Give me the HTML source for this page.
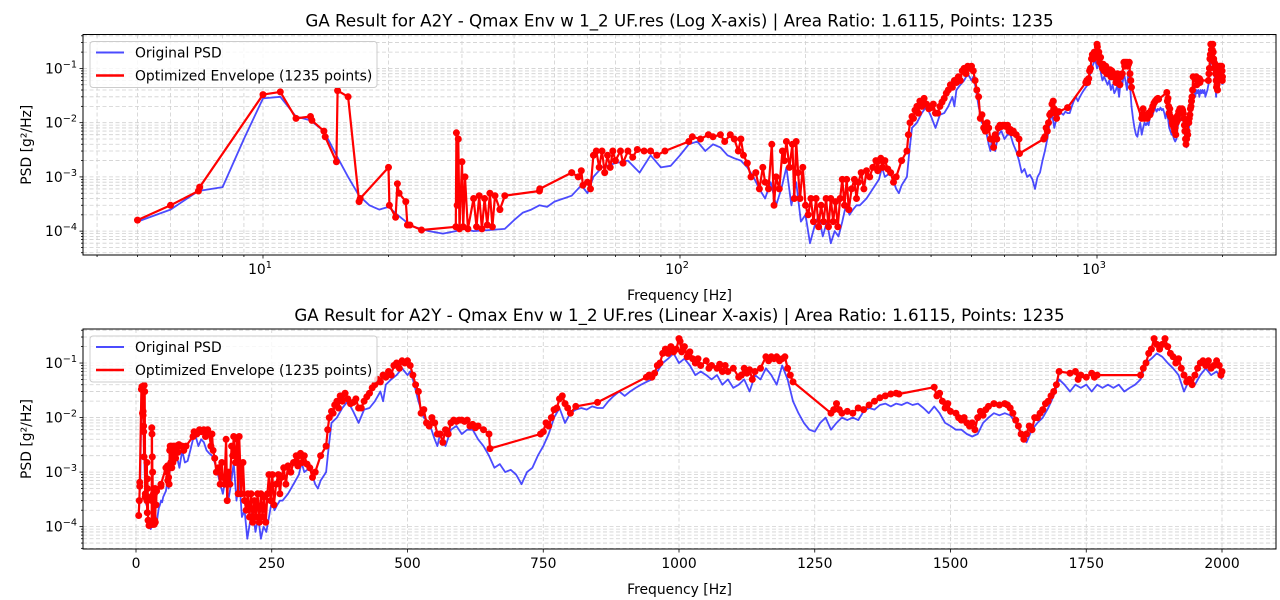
<!DOCTYPE html>
<html><head><meta charset="utf-8">
<style>
html,body{margin:0;padding:0;background:#fff;}
svg{display:block;font-family:"DejaVu Sans","Liberation Sans",sans-serif;}
</style></head>
<body>
<svg id="fig" width="1280" height="600" viewBox="0 0 1280 600" xmlns="http://www.w3.org/2000/svg"></svg>
<script>
const psdFreq=[5,6,7,8,9,10,11,12,13,14,15,16,17,18,19,20,21,22,23,25,27,29,30,32,35,38,40,42,44,46,48,50,55,58,60,62,65,70,75,80,85,90,95,100,105,110,115,120,125,130,135,140,145,150,155,160,165,170,175,180,185,190,195,200,205,210,215,220,225,230,235,240,245,250,255,260,265,270,280,290,300,305,310,320,330,335,340,350,355,360,370,380,390,400,410,420,430,440,450,455,460,470,480,490,500,505,510,520,530,540,550,555,560,570,580,590,600,610,620,630,640,650,660,670,680,690,700,710,720,730,740,750,760,770,780,790,800,810,820,830,840,850,860,870,880,890,900,910,920,930,940,950,960,970,980,990,1000,1010,1020,1030,1040,1050,1060,1070,1080,1090,1100,1110,1120,1130,1140,1150,1160,1170,1180,1190,1200,1210,1220,1230,1240,1250,1260,1270,1280,1290,1300,1310,1320,1330,1340,1350,1360,1370,1380,1390,1400,1410,1420,1430,1440,1450,1460,1470,1480,1490,1500,1510,1520,1530,1540,1550,1560,1570,1580,1590,1600,1610,1620,1630,1640,1650,1660,1670,1680,1690,1700,1710,1720,1730,1740,1750,1760,1770,1780,1790,1800,1810,1820,1830,1840,1850,1860,1870,1880,1890,1900,1910,1920,1930,1940,1950,1960,1970,1980,1990,2000];
const psdVal=[1.5e-4,2.5e-4,5.5e-4,6.5e-4,5e-3,2.8e-2,3e-2,1.3e-2,1.1e-2,7e-3,2.5e-3,1e-3,4.5e-4,3e-4,2.5e-4,2.8e-4,2e-4,1.5e-4,1.2e-4,1e-4,9e-5,1e-4,1.1e-4,1e-4,1.05e-4,1.1e-4,1.6e-4,2.2e-4,2.5e-4,3e-4,2.8e-4,3.5e-4,4.5e-4,7e-4,5e-4,1e-3,1.5e-3,1.8e-3,2e-3,1.2e-3,2.5e-3,1.5e-3,1.6e-3,2.5e-3,4e-3,4.5e-3,3e-3,4e-3,3.5e-3,2.5e-3,2.2e-3,2e-3,1.5e-3,1e-3,6e-4,4e-4,8e-4,3e-4,6e-4,1.5e-3,3e-4,8e-4,1.5e-4,2e-4,6e-5,1.2e-4,2e-4,8e-5,1.5e-4,6e-5,1e-4,8e-5,1.5e-4,3e-4,2e-4,2.5e-4,3e-4,3e-4,4e-4,6e-4,9e-4,1.5e-3,1e-3,1.2e-3,6e-4,5e-4,7e-4,1e-3,3e-3,8e-3,1e-2,1.5e-2,2e-2,1.3e-2,8e-3,1.4e-2,1.5e-2,2e-2,3e-2,2e-2,4e-2,5e-2,6e-2,8e-2,6e-2,7e-2,5e-2,2e-2,1e-2,8e-3,4e-3,3e-3,5e-3,3e-3,6e-3,7e-3,5e-3,6e-3,6e-3,4e-3,3e-3,2e-3,1.2e-3,1.4e-3,1e-3,1.1e-3,9e-4,6e-4,1e-3,1.2e-3,2e-3,3e-3,5e-3,1e-2,1.5e-2,8e-3,1.2e-2,1.4e-2,1.5e-2,1.4e-2,1.6e-2,1.5e-2,1.5e-2,2e-2,2.5e-2,3e-2,2.5e-2,3e-2,3.5e-2,4e-2,4.5e-2,5e-2,7e-2,1e-1,1.2e-1,1.5e-1,1e-1,1.2e-1,9e-2,6e-2,7e-2,6e-2,5e-2,6e-2,4e-2,5e-2,3.5e-2,4e-2,5e-2,3e-2,6e-2,5e-2,8e-2,6e-2,4e-2,9e-2,5e-2,2e-2,1.2e-2,8e-3,6e-3,5.5e-3,8e-3,1e-2,6e-3,8e-3,1e-2,9e-3,1e-2,9e-3,1.3e-2,1.5e-2,1.4e-2,1.7e-2,1.8e-2,1.6e-2,1.8e-2,1.7e-2,1.9e-2,1.7e-2,1.8e-2,1.5e-2,1.2e-2,1.6e-2,1.2e-2,8e-3,7e-3,6e-3,6e-3,5e-3,4.5e-3,5e-3,8e-3,1e-2,1.2e-2,1.1e-2,1.2e-2,1.1e-2,8e-3,5e-3,3.5e-3,6e-3,8e-3,1e-2,1.5e-2,2.5e-2,5e-2,4e-2,3e-2,4e-2,3.5e-2,4e-2,3e-2,4e-2,3.5e-2,4e-2,3.5e-2,4e-2,3e-2,3.5e-2,4e-2,5e-2,1e-1,1.2e-1,1.5e-1,1.3e-1,1e-1,8e-2,6e-2,3e-2,5e-2,4e-2,6e-2,8e-2,6e-2,7e-2,5e-2];
const envFreq=[5,6,7,7.05,10,11,12,13,13.1,14,14.1,15,15.1,16,17,17.1,20,20.1,20.8,21,21.2,22,22.2,22.5,24,29,29.1,29.2,29.4,29.6,30,30.2,30.5,31,32,32.5,33,33.5,34,34.5,35,35.5,36,37,38,46,46.1,55,57,58,58.5,60,61,62,63,64,65,66,67,68,69,70,72,73,75,77,79,82,85,88,92,105,107,112,117,120,125,128,132,135,138,140,142,145,148,152,155,158,160,163,166,168,170,173,176,178,180,183,186,188,190,192,194,197,200,203,206,209,212,215,218,221,224,227,230,233,236,239,242,245,248,251,254,258,262,265,268,272,276,280,285,290,295,298,300,303,306,310,315,320,325,330,340,350,353,356,360,363,366,370,373,376,380,385,390,395,400,405,410,415,420,425,430,435,440,445,450,455,460,465,470,475,480,485,490,495,500,505,510,515,520,525,530,535,540,545,550,555,560,565,570,575,580,585,590,595,600,605,610,615,620,625,630,640,650,652,745,750,755,760,765,770,775,780,785,790,795,800,810,850,940,945,950,955,960,965,970,975,980,985,990,995,1000,1002,1005,1010,1015,1020,1025,1030,1035,1040,1050,1055,1060,1070,1075,1080,1085,1090,1100,1110,1115,1120,1125,1130,1135,1140,1150,1160,1165,1170,1175,1180,1185,1190,1195,1200,1205,1210,1280,1285,1290,1295,1300,1310,1320,1330,1340,1350,1360,1370,1380,1390,1400,1405,1470,1475,1480,1485,1490,1495,1500,1510,1515,1520,1525,1530,1535,1540,1545,1550,1555,1560,1565,1570,1580,1590,1600,1605,1610,1615,1620,1625,1630,1635,1640,1645,1650,1655,1660,1665,1670,1675,1680,1685,1690,1695,1700,1720,1730,1735,1740,1750,1760,1765,1770,1850,1855,1860,1865,1870,1875,1880,1885,1890,1895,1900,1905,1910,1915,1920,1925,1930,1935,1940,1945,1950,1955,1960,1965,1970,1975,1980,1985,1990,1995,1998,2000];
const envVal=[1.6e-4,3e-4,5.5e-4,6.5e-4,3.3e-2,3.7e-2,1.2e-2,1.3e-2,1.1e-2,7e-3,5.5e-3,1.9e-3,3.9e-2,3e-2,3.5e-4,4e-4,1.5e-3,3e-4,1.8e-4,7.5e-4,5e-4,3.5e-4,1.3e-4,1.3e-4,1.05e-4,1.2e-4,6.5e-3,3e-4,5e-3,1.1e-4,1.9e-3,1.2e-4,1e-3,1.1e-4,4e-4,1.2e-4,4.5e-4,1.1e-4,4e-4,1.3e-4,5e-4,1.2e-4,4.5e-4,2.5e-4,4.5e-4,5.5e-4,6e-4,1.2e-3,1e-3,1.3e-3,7e-4,8e-4,6e-4,2.5e-3,3e-3,1.5e-3,3e-3,1.2e-3,2.5e-3,1.5e-3,3e-3,2e-3,3e-3,1.8e-3,3e-3,2.3e-3,3.2e-3,3e-3,3e-3,2.5e-3,3e-3,4.5e-3,5.5e-3,5e-3,6e-3,5.5e-3,6e-3,4.5e-3,6e-3,5e-3,3e-3,5e-3,2.5e-3,1.8e-3,1e-3,1.2e-3,6e-4,1.5e-3,8e-4,6e-4,4e-3,3e-4,1e-3,6e-4,3e-3,2e-3,4.5e-3,1.5e-3,4e-3,4e-4,4.5e-3,1.2e-3,4e-4,1.5e-3,3e-4,2e-4,4e-4,1.5e-4,4e-4,1.2e-4,3e-4,1.5e-4,4e-4,1.2e-4,4e-4,1.5e-4,3.5e-4,1.2e-4,4e-4,9e-4,3e-4,9e-4,2.5e-4,6e-4,9e-4,4e-4,8e-4,1.2e-3,6e-4,1.3e-3,1e-3,1.5e-3,2e-3,1.3e-3,2e-3,2.2e-3,1.5e-3,2e-3,1.4e-3,1.2e-3,8e-4,1e-3,2e-3,3e-3,6e-3,1e-2,1.3e-2,1.2e-2,1.7e-2,2e-2,1.5e-2,2.5e-2,2e-2,2.8e-2,2.2e-2,1.8e-2,1.9e-2,2.2e-2,1.5e-2,1.5e-2,2e-2,2.4e-2,2.8e-2,3.5e-2,4e-2,5e-2,4.5e-2,6e-2,5.5e-2,7e-2,6e-2,9e-2,1e-1,8e-2,1.1e-1,1e-1,1.1e-1,9e-2,6e-2,4e-2,3e-2,1.2e-2,1.4e-2,8e-3,7e-3,1e-2,8e-3,5e-3,5e-3,3.5e-3,6e-3,5e-3,8e-3,9e-3,8.5e-3,9e-3,9e-3,8.5e-3,9e-3,7e-3,7.5e-3,6.5e-3,7e-3,6e-3,5e-3,2.7e-3,5e-3,5.5e-3,8e-3,7e-3,1e-2,1.4e-2,1.5e-2,2.2e-2,2.5e-2,1.8e-2,1.5e-2,1.2e-2,1.6e-2,1.9e-2,5.5e-2,6e-2,5.5e-2,6.5e-2,9e-2,1e-1,1.5e-1,1.8e-1,1.5e-1,2e-1,1.6e-1,1.8e-1,2.8e-1,2.5e-1,1.6e-1,2e-1,1.3e-1,1.6e-1,1.2e-1,1e-1,1.2e-1,9e-2,1.1e-1,8e-2,9e-2,8e-2,9.5e-2,7e-2,9e-2,7e-2,8e-2,5.5e-2,6e-2,8e-2,6.5e-2,7.5e-2,5e-2,7e-2,8e-2,1.3e-1,1.1e-1,1.3e-1,1.2e-1,1.3e-1,1.1e-1,1.2e-1,1.3e-1,8e-2,6e-2,4.5e-2,1.2e-2,1.4e-2,1.8e-2,1.4e-2,1.2e-2,1.3e-2,1.2e-2,1.5e-2,1.4e-2,1.7e-2,2e-2,2.3e-2,2.5e-2,2.7e-2,2.8e-2,2.7e-2,3.6e-2,2.5e-2,2.8e-2,2e-2,1.5e-2,1.8e-2,1.3e-2,1.2e-2,1e-2,9e-3,1e-2,8e-3,7e-3,8e-3,6e-3,1e-2,1.3e-2,1.1e-2,1.4e-2,1.6e-2,1.8e-2,1.7e-2,1.8e-2,1.7e-2,1.5e-2,1.2e-2,9e-3,7e-3,5e-3,4e-3,5e-3,7e-3,6e-3,1e-2,1e-2,1.2e-2,1.4e-2,1.8e-2,2e-2,2.5e-2,3e-2,4e-2,7e-2,6.5e-2,7e-2,5e-2,6e-2,5.5e-2,6.5e-2,5.5e-2,6e-2,6e-2,8e-2,1e-1,1.5e-1,1.8e-1,2.8e-1,2.2e-1,1.8e-1,2.2e-1,2.8e-1,2e-1,1.5e-1,1.3e-1,1e-1,1.2e-1,8e-2,6e-2,4.5e-2,5e-2,4e-2,6e-2,8e-2,1e-1,1.1e-1,9e-2,1.1e-1,8e-2,9e-2,1.1e-1,9e-2,6e-2,7e-2];
const logXTicks=[1,2,3];
const linXTicks=[0,250,500,750,1000,1250,1500,1750,2000];
const yTicks=[-4,-3,-2,-1];

const NS='http://www.w3.org/2000/svg';
const svg=document.getElementById('fig');
function el(tag,attrs,parent){const e=document.createElementNS(NS,tag);for(const k in attrs)e.setAttribute(k,attrs[k]);(parent||svg).appendChild(e);return e;}

function drawPanel(cfg){
  const g=el('g',{});
  
  
  const L=83,R=1276,T=cfg.top,B=cfg.bottom;
  const ylo=cfg.ylo, yhi=cfg.yhi;
  const Y=v=>B-(Math.log10(v)-ylo)/(yhi-ylo)*(B-T);
  const X=cfg.X;
  const clip=el('clipPath',{id:'c'+cfg.id},g);el('rect',{x:L,y:T,width:R-L,height:B-T},clip);
  const grid=el('g',{stroke:'#d0d0d0','stroke-width':0.8,'stroke-dasharray':'4,2.5'},g);
  
  
  for(let d=-5;d<0;d++)for(let m=1;m<10;m++){const y=Y(m*Math.pow(10,d));if(y>T&&y<B)el('line',{x1:L,x2:R,y1:y,y2:y},grid);}
  const ax=el('g',{stroke:'#000','stroke-width':0.8},g);
  if(cfg.log){
    for(let d=0;d<4;d++)for(let m=1;m<10;m++){const x=X(m*Math.pow(10,d));if(x>L&&x<R){el('line',{x1:x,x2:x,y1:T,y2:B},grid);el('line',{x1:x,x2:x,y1:B,y2:B+(m===1?3.5:2)},ax);}}
    logXTicks.forEach(p=>{const t=el('text',{x:X(Math.pow(10,p))-3,y:B+19,'font-size':13.9,'text-anchor':'middle',fill:'#000'},g);t.textContent='10';const s=el('tspan',{dy:-6,'font-size':9.7},t);s.textContent=String(p);});
  } else {
    linXTicks.forEach(v=>{const x=X(v);el('line',{x1:x,x2:x,y1:T,y2:B},grid);el('line',{x1:x,x2:x,y1:B,y2:B+3.5},ax);const t=el('text',{x:x,y:B+19,'font-size':13.9,'text-anchor':'middle',fill:'#000'},g);t.textContent=String(v);});
  }
  for(let d=-5;d<0;d++)for(let m=1;m<10;m++){const y=Y(m*Math.pow(10,d));if(y>T&&y<B)el('line',{x1:L,x2:L-(m===1?3.5:2),y1:y,y2:y},ax);}
  yTicks.forEach(p=>{const y=Y(Math.pow(10,p));const t=el('text',{x:L-6,y:y+5,'font-size':13.9,'text-anchor':'end',fill:'#000'},g);t.textContent='10';const s=el('tspan',{dy:-6,'font-size':9.7},t);s.textContent='−'+Math.abs(p);});
  const plot=el('g',{'clip-path':'url(#c'+cfg.id+')'},g);
  const psd=el('polyline',{points:psdFreq.map((f,i)=>X(f).toFixed(1)+','+Y(psdVal[i]).toFixed(1)).join(' '),fill:'none',stroke:'#0000ff','stroke-opacity':0.7,'stroke-width':1.8,'stroke-linejoin':'round'},plot);
  
  
  const env=el('polyline',{points:envFreq.map((f,i)=>X(f).toFixed(1)+','+Y(envVal[i]).toFixed(1)).join(' '),fill:'none',stroke:'#ff0000','stroke-width':2.2,'stroke-linejoin':'round'},plot);
  
  
  const mk=el('g',{fill:'#ff0000'},plot);
  
  
  envFreq.forEach((f,i)=>{const c=el('circle',{cx:X(f).toFixed(1),cy:Y(envVal[i]).toFixed(1),r:3.5},mk);});
  const frame=el('rect',{x:L,y:T,width:R-L,height:B-T,fill:'none',stroke:'#000','stroke-width':1},g);
  
  const ti=el('text',{x:(L+R)/2,y:T-8,'font-size':16.7,'text-anchor':'middle',fill:'#000'},g);ti.textContent=cfg.title;
  
  const xl=el('text',{x:(L+R)/2,y:B+45,'font-size':13.9,'text-anchor':'middle',fill:'#000'},g);xl.textContent='Frequency [Hz]';
  
  const yl=el('text',{x:0,y:0,'font-size':13.9,'text-anchor':'middle',fill:'#000',transform:'translate(31,'+((T+B)/2)+') rotate(-90)'},g);yl.textContent='PSD [g²/Hz]';
  
  const lg=el('g',{},g);
  
  el('rect',{x:90,y:T+7,width:287,height:46,rx:3,fill:'#fff','fill-opacity':0.8,stroke:'#ccc','stroke-width':1},lg);
  el('line',{x1:96,x2:124,y1:T+18,y2:T+18,stroke:'#0000ff','stroke-opacity':0.7,'stroke-width':2},lg);
  el('line',{x1:96,x2:124,y1:T+41,y2:T+41,stroke:'#ff0000','stroke-width':2.5},lg);
  const l1=el('text',{x:135,y:T+23,'font-size':13.9,fill:'#000'},lg);l1.textContent='Original PSD';
  
  const l2=el('text',{x:135,y:T+46,'font-size':13.9,fill:'#000'},lg);l2.textContent='Optimized Envelope (1235 points)';
  
}
drawPanel({id:1,name:'log-x-chart',log:true,top:34.5,bottom:255,ylo:-4.44,yhi:-0.374,
  X:f=>263+(Math.log10(f)-1)*417,
  title:'GA Result for A2Y - Qmax Env w 1_2 UF.res (Log X-axis) | Area Ratio: 1.6115, Points: 1235'});
drawPanel({id:2,name:'linear-x-chart',log:false,top:329,bottom:549,ylo:-4.41,yhi:-0.376,
  X:f=>136+f*0.543,
  title:'GA Result for A2Y - Qmax Env w 1_2 UF.res (Linear X-axis) | Area Ratio: 1.6115, Points: 1235'});
</script>
</body></html>
